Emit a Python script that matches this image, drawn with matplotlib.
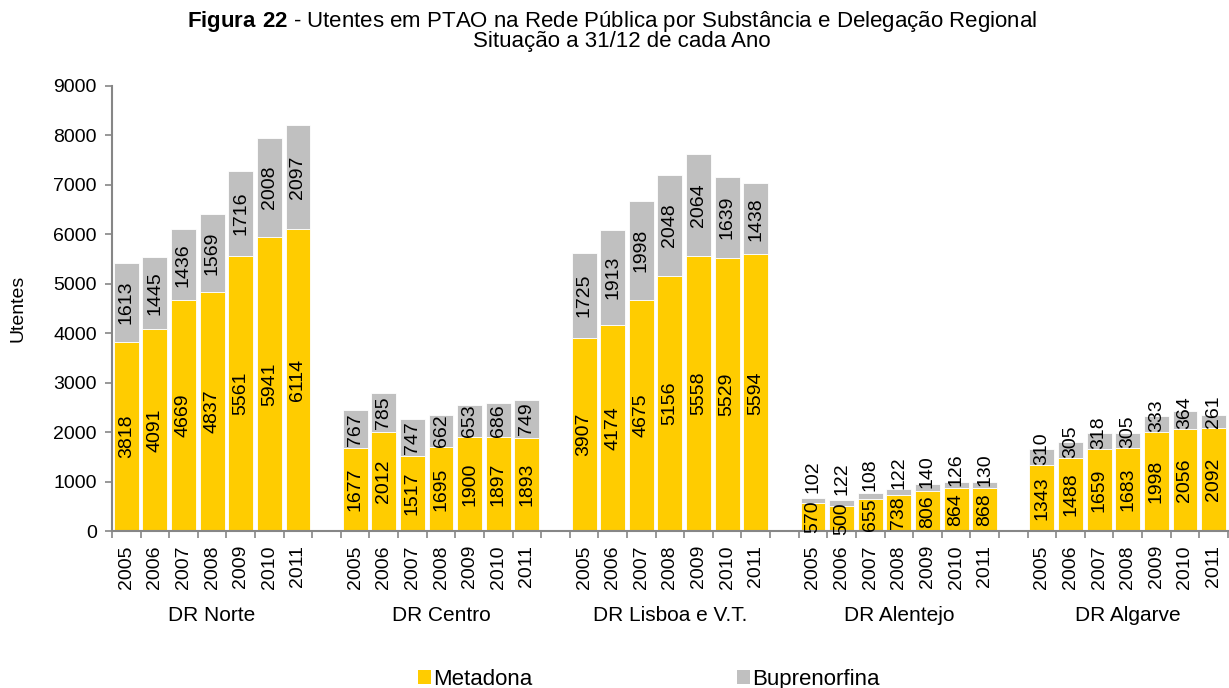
import numpy as np
import matplotlib
matplotlib.use("Agg")
import matplotlib.pyplot as plt
from matplotlib.patches import Patch
from matplotlib.transforms import blended_transform_factory

plt.rcParams['font.family'] = ['Liberation Sans', 'DejaVu Sans']
plt.rcParams['mathtext.fontset'] = 'custom'
plt.rcParams['mathtext.rm'] = 'Liberation Sans'
plt.rcParams['mathtext.bf'] = 'Liberation Sans:bold'

# data
regions = ['DR Norte', 'DR Centro', 'DR Lisboa e V.T.', 'DR Alentejo', 'DR Algarve']
years = ['2005', '2006', '2007', '2008', '2009', '2010', '2011']

metadona = [
    [3818, 4091, 4669, 4837, 5561, 5941, 6114],
    [1677, 2012, 1517, 1695, 1900, 1897, 1893],
    [3907, 4174, 4675, 5156, 5558, 5529, 5594],
    [570, 500, 655, 738, 806, 864, 868],
    [1343, 1488, 1659, 1683, 1998, 2056, 2092],
]
buprenorfina = [
    [1613, 1445, 1436, 1569, 1716, 2008, 2097],
    [767, 785, 747, 662, 653, 686, 749],
    [1725, 1913, 1998, 2048, 2064, 1639, 1438],
    [102, 122, 108, 122, 140, 126, 130],
    [310, 305, 318, 305, 333, 364, 261],
]

YELLOW = '#FFCC00'
GREY = '#C0C0C0'
AXCOL = '#868686'
FS = 14

fig = plt.figure(figsize=(12.29, 6.88), dpi=100)
ax = fig.add_axes([0.0911, 0.228, 0.908, 0.647])

n_years = len(years)
slot = n_years + 1
xpos, met, bup = [], [], []
for g in range(len(regions)):
    for i in range(n_years):
        xpos.append(g * slot + i + 0.5)
        met.append(metadona[g][i])
        bup.append(buprenorfina[g][i])
xpos = np.array(xpos)
met = np.array(met)
bup = np.array(bup)

ax.bar(xpos, met, width=0.87, color=YELLOW, edgecolor='white', linewidth=0.6)
ax.bar(xpos, bup, bottom=met, width=0.87, color=GREY, edgecolor='white', linewidth=0.6)

ax.set_ylim(0, 9000)
ax.set_xlim(0, len(regions) * slot - 1)
ax.set_yticks(np.arange(0, 9001, 1000))

# rough size of a vertical label in data units
upp = 9000 / 445.0          # data units per pixel
def lab_len(v):
    return len(str(v)) * 10.8 * upp

for x, m, b in zip(xpos, met, bup):
    ax.text(x, m / 2, str(m), rotation=90, ha='center', va='center', fontsize=FS)
    L = lab_len(b)
    if b >= L:
        ax.text(x, m + b / 2, str(b), rotation=90, ha='center', va='center', fontsize=FS)
    else:
        ytop_met = m / 2 + lab_len(m) / 2 + 150
        ax.text(x, max(m, ytop_met), str(b), rotation=90, ha='center', va='bottom',
                fontsize=FS)

# x axis: year labels at bar centres, ticks at slot edges
ax.set_xticks(xpos)
ax.set_xticklabels(years * len(regions), rotation=90, fontsize=FS)
ax.tick_params(axis='x', which='major', length=0, pad=10)
ax.set_xticks(np.arange(0, len(regions) * slot), minor=True)
ax.tick_params(axis='x', which='minor', length=5, width=1.2, color=AXCOL, direction='out')
ax.tick_params(axis='y', length=5, width=1.2, color=AXCOL, labelsize=FS, pad=6)

for s in ['top', 'right']:
    ax.spines[s].set_visible(False)
for s in ['left', 'bottom']:
    ax.spines[s].set_color(AXCOL)
    ax.spines[s].set_linewidth(1.5)

trans = blended_transform_factory(ax.transData, ax.transAxes)
for g, name in enumerate(regions):
    ax.text(g * slot + n_years / 2, -0.19, name, transform=trans, ha='center',
            va='center', fontsize=15)

ax.set_ylabel('Utentes', fontsize=FS)
ax.yaxis.set_label_coords(-0.077, 0.5)

fig.text(0.498, 0.969, r'$\mathbf{Figura\ 22}$ - Utentes em PTAO na Rede Pública por Substância e Delegação Regional',
         ha='center', va='center', fontsize=16)
fig.text(0.506, 0.939, 'Situação a 31/12 de cada Ano', ha='center', va='center', fontsize=16)

handles = [Patch(facecolor=YELLOW, label='Metadona'), Patch(facecolor=GREY, label='Buprenorfina')]
fig.legend(handles=handles, loc='center', bbox_to_anchor=(0.528, 0.013), ncol=2, frameon=False,
           fontsize=16, handlelength=0.6, handleheight=0.6, handletextpad=0.1,
           columnspacing=9.2)

fig.savefig('out.png', dpi=100)
